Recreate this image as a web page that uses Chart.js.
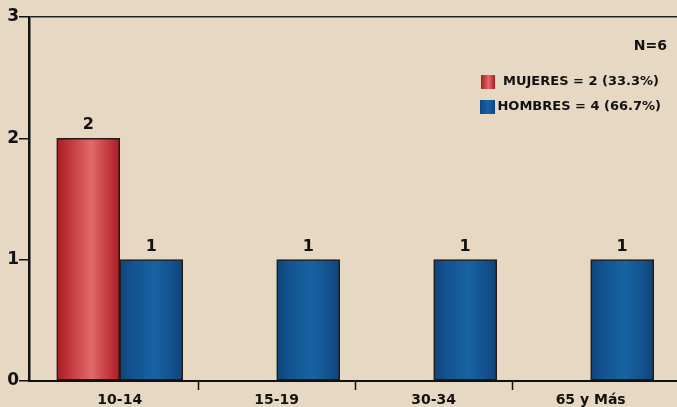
<!DOCTYPE html>
<html><head><meta charset="utf-8">
<script src="https://cdn.jsdelivr.net/npm/chart.js@4/dist/chart.umd.min.js"></script>
<style>html,body{margin:0;padding:0;background:#E6D8C3;overflow:hidden}#wrap{width:677px;height:407px;position:relative}</style>
</head><body><div id="wrap"><canvas id="c" width="677" height="407"></canvas></div>
<script>
const categories = ['10-14', '15-19', '30-34', '65 y Más'];
const mujeres = [2, 0, 0, 0];
const hombres = [1, 1, 1, 1];
const seriesNames = ['MUJERES', 'HOMBRES'];
const legendLabels = ['MUJERES = 2 (33.3%)', 'HOMBRES = 4 (66.7%)'];
const totalLabel = 'N=6';
const yMin = 0, yMax = 3, yStep = 1;

const FONT = '"DejaVu Sans", Verdana, sans-serif';
const redStops = [[0, '#A61E24'], [0.2, '#C2363B'], [0.55, '#E06A6A'], [0.85, '#C0343A'], [1, '#A41E24']];
const blueStops = [[0, '#0F457C'], [0.2, '#13528F'], [0.55, '#1763A3'], [0.85, '#134F8B'], [1, '#0E447A']];
const stopsFor = [redStops, blueStops];

function grad(ctx, left, width, stops) {
  const g = ctx.createLinearGradient(left, 0, left + width, 0);
  stops.forEach(s => g.addColorStop(s[0], s[1]));
  return g;
}

const gradientPlugin = {
  id: 'gradientBars',
  beforeDatasetsDraw(chart) {
    const ctx = chart.ctx;
    chart.data.datasets.forEach((ds, di) => {
      chart.getDatasetMeta(di).data.forEach(el => {
        el.options.backgroundColor = grad(ctx, el.x - el.width / 2, el.width, stopsFor[di]);
      });
    });
  },
  afterDatasetsDraw(chart) {
    const ctx = chart.ctx;
    ctx.save();
    ctx.fillStyle = '#111';
    ctx.font = 'bold 16px ' + FONT;
    ctx.textAlign = 'center';
    ctx.textBaseline = 'alphabetic';
    chart.data.datasets.forEach((ds, di) => {
      chart.getDatasetMeta(di).data.forEach((el, i) => {
        const v = ds.data[i].y;
        if (v > 0) ctx.fillText(String(v), el.x, el.y - 9);
      });
    });
    ctx.restore();
  },
  afterDraw(chart) {
    const ctx = chart.ctx;
    ctx.save();
    ctx.fillStyle = '#111';
    ctx.textAlign = 'right';
    ctx.textBaseline = 'middle';
    ctx.font = 'bold 14px ' + FONT;
    ctx.fillText(totalLabel, 667, 46);
    ctx.font = 'bold 13px ' + FONT;
    const rows = [{box: [481, 75, 14, 14], y: 82, right: 659}, {box: [480, 100, 15, 14], y: 107, right: 661}];
    legendLabels.forEach((t, i) => {
      const b = rows[i].box;
      ctx.fillStyle = grad(ctx, b[0], b[2], stopsFor[i]);
      ctx.fillRect(b[0], b[1], b[2], b[3]);
      ctx.fillStyle = '#111';
      ctx.fillText(t, rows[i].right, rows[i].y);
    });
    ctx.restore();
  }
};

const toPoints = arr => categories.map((c, i) => ({x: i, y: arr[i]}));

new Chart(document.getElementById('c'), {
  type: 'bar',
  data: {
    datasets: [
      {label: seriesNames[0], data: toPoints(mujeres), backgroundColor: () => '#C83C40'},
      {label: seriesNames[1], data: toPoints(hombres), backgroundColor: () => '#15558F'}
    ]
  },
  options: {
    responsive: false,
    devicePixelRatio: 1,
    animation: false,
    events: [],
    barThickness: 63,
    borderColor: '#231a14',
    borderWidth: 1.5,
    borderSkipped: false,
    layout: {padding: {top: 17, left: 0, right: 0, bottom: 0}},
    plugins: {legend: {display: false}, tooltip: {enabled: false}},
    scales: {
      x: {
        type: 'linear',
        offset: false,
        min: -0.578, max: 3.55,
        afterFit: s => { s.height = 26; },
        afterBuildTicks: s => { s.ticks = [0, 0.5, 1, 1.5, 2, 2.5, 3].map(v => ({value: v})); },
        ticks: {
          autoSkip: false, maxRotation: 0, padding: 2,
          color: '#111', font: {family: FONT, weight: 'bold', size: 14},
          callback: v => Number.isInteger(v) ? categories[v] : ''
        },
        grid: {
          offset: false,
          drawOnChartArea: false, tickLength: 9, tickWidth: 1.5,
          tickColor: c => (c.tick && c.tick.value % 1 !== 0) ? '#111' : 'rgba(0,0,0,0)'
        },
        border: {display: true, color: '#111', width: 2}
      },
      y: {
        min: yMin, max: yMax,
        afterFit: s => { s.width = 29; },
        ticks: {stepSize: yStep, padding: 0, color: '#111', font: {family: FONT, weight: 'bold', size: 17}},
        grid: {
          drawOnChartArea: true, tickLength: 10, tickWidth: 1.5, tickColor: '#111', lineWidth: 1.5,
          color: c => (c.tick && c.tick.value === yMax) ? '#222' : 'rgba(0,0,0,0)'
        },
        border: {display: true, color: '#111', width: 2.5}
      }
    }
  },
  plugins: [gradientPlugin]
});
</script>
</body></html>
